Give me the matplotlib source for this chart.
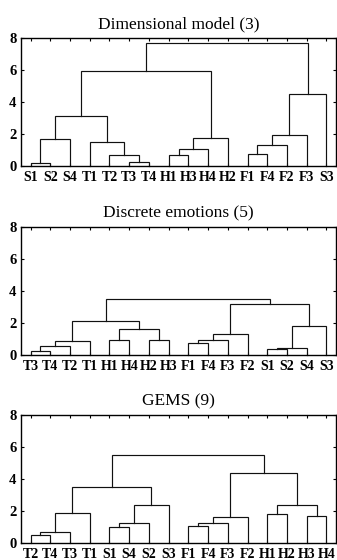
import matplotlib
matplotlib.use('Agg')
import matplotlib.pyplot as plt

plt.rcParams['font.family'] = 'Liberation Serif'

# leaf order as shown, merges refer to leaf names or earlier merge index
dim_labels = ['S1', 'S2', 'S4', 'T1', 'T2', 'T3', 'T4', 'H1', 'H3', 'H4', 'H2', 'F1', 'F4', 'F2', 'F3', 'S3']
dim_pairs = [('S1', 'S2'), (0, 'S4'), ('T3', 'T4'), ('T2', 2), ('T1', 3), (1, 4),
             ('H1', 'H3'), (6, 'H4'), (7, 'H2'), (5, 8),
             ('F1', 'F4'), (10, 'F2'), (11, 'F3'), (12, 'S3'), (9, 13)]
dim_heights = [0.21, 1.71, 0.25, 0.71, 1.5, 3.12, 0.67, 1.08, 1.77, 5.92,
               0.77, 1.33, 1.96, 4.52, 7.69]

disc_labels = ['T3', 'T4', 'T2', 'T1', 'H1', 'H4', 'H2', 'H3', 'F1', 'F4', 'F3', 'F2', 'S1', 'S2', 'S4', 'S3']
disc_pairs = [('T3', 'T4'), (0, 'T2'), (1, 'T1'), ('H1', 'H4'), ('H2', 'H3'), (3, 4), (2, 5),
              ('F1', 'F4'), (7, 'F3'), (8, 'F2'), ('S1', 'S2'), (10, 'S4'), (11, 'S3'),
              (9, 12), (6, 13)]
disc_heights = [0.25, 0.56, 0.90, 0.96, 0.96, 1.65, 2.13, 0.73, 0.96, 1.34,
                0.35, 0.42, 1.84, 3.17, 3.48]

gems_labels = ['T2', 'T4', 'T3', 'T1', 'S1', 'S4', 'S2', 'S3', 'F1', 'F4', 'F3', 'F2', 'H1', 'H2', 'H3', 'H4']
gems_pairs = [('T2', 'T4'), (0, 'T3'), (1, 'T1'), ('S1', 'S4'), (3, 'S2'), (4, 'S3'), (2, 5),
              ('F1', 'F4'), (7, 'F3'), (8, 'F2'), ('H1', 'H2'), ('H3', 'H4'), (10, 11),
              (9, 12), (6, 13)]
gems_heights = [0.48, 0.69, 1.89, 1.0, 1.23, 2.37, 3.47, 1.08, 1.25, 1.62,
                1.83, 1.68, 2.37, 4.37, 5.47]

titles = ['Dimensional model (3)', 'Discrete emotions (5)', 'GEMS (9)']
panels = [(dim_labels, dim_pairs, dim_heights),
          (disc_labels, disc_pairs, disc_heights),
          (gems_labels, gems_pairs, gems_heights)]

W, H = 337, 560
fig = plt.figure(figsize=(W / 100, H / 100), dpi=100)

# axes top/bottom in pixels
rows = [(38, 166), (227, 355), (415, 543)]
left, right = 20.7, 336.3


def node_pos(key, labels, nodes):
    if isinstance(key, int):
        return nodes[key]
    return (labels.index(key) + 1, 0.0)


for (top, bot), title, (labels, pairs, heights) in zip(rows, titles, panels):
    ax = fig.add_axes([left / W, 1 - bot / H, (right - left) / W, (bot - top) / H])
    nodes = []
    for (a, b), h in zip(pairs, heights):
        xa, ya = node_pos(a, labels, nodes)
        xb, yb = node_pos(b, labels, nodes)
        ax.plot([xa, xa, xb, xb], [ya, h, h, yb], color='#111111', lw=0.85,
                solid_joinstyle='miter', clip_on=False)
        nodes.append(((xa + xb) / 2, h))

    ax.set_xlim(0.5, len(labels) + 0.5)
    ax.set_ylim(0, 8)
    ax.set_xticks(range(1, len(labels) + 1))
    ax.set_xticklabels(labels, fontweight='bold', fontsize=10)
    ax.set_yticks([0, 2, 4, 6, 8])
    ax.set_yticklabels(['0', '2', '4', '6', '8'], fontweight='bold', fontsize=10.5)
    ax.tick_params(direction='in', length=2.5, width=0.8, top=True, right=True)
    ax.tick_params(axis='x', pad=3.5)
    ax.tick_params(axis='y', pad=3)
    for s in ax.spines.values():
        s.set_linewidth(1.0)
    ax.set_title(title, fontsize=12.5, pad=7)

fig.savefig('out.png', dpi=100)
